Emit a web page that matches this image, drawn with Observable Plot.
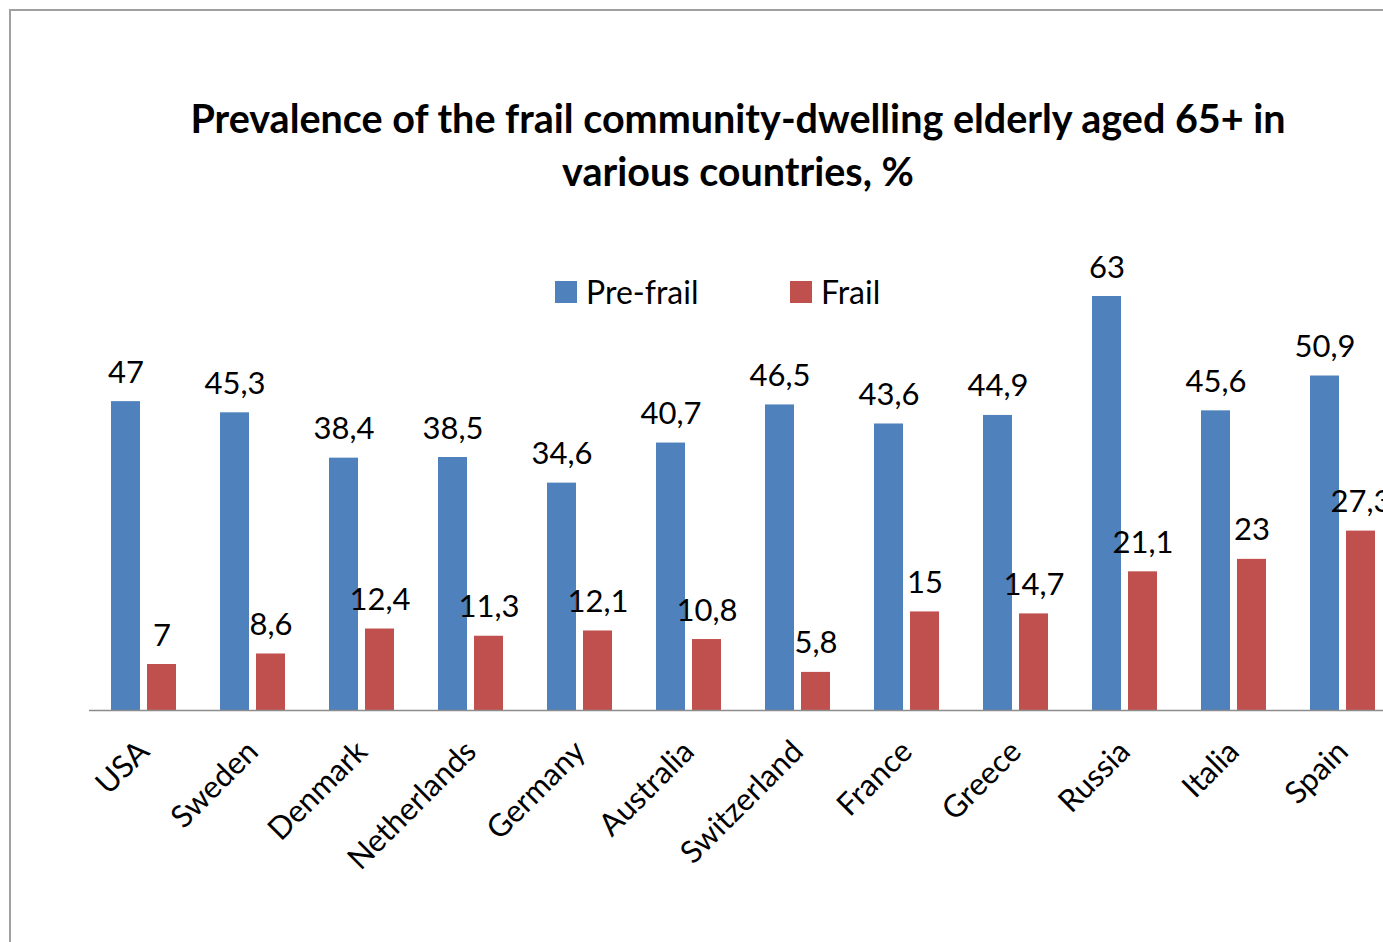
<!DOCTYPE html>
<html><head><meta charset="utf-8">
<script src="https://cdn.jsdelivr.net/npm/d3@7"></script>
<script src="https://cdn.jsdelivr.net/npm/@observablehq/plot@0.6"></script>
<style>
html,body{margin:0;padding:0;background:#fff;overflow:hidden;width:1383px;height:942px;}
#wrap{position:relative;width:1383px;height:942px;overflow:hidden;font-family:Lato,"Open Sans",sans-serif;color:#000;}
#frame{position:absolute;left:9px;top:9px;width:2000px;height:2000px;border-left:2px solid #a0a0a0;border-top:2px solid #a0a0a0;}
#title{position:absolute;left:0;width:1476px;top:91px;text-align:center;font-weight:bold;font-size:39.5px;line-height:53px;}
.leg{position:absolute;top:272px;display:flex;align-items:center;font-size:32px;line-height:40px;}
.sw{width:22px;height:22px;margin-right:9px;}
#chart{position:absolute;left:0;top:200px;width:1420px;}
#chart svg{max-width:none !important;}
</style></head>
<body><div id="wrap">
<div id="frame"></div>
<div id="title">Prevalence of the frail community-dwelling elderly aged 65+ in<br>various countries, %</div>
<div class="leg" style="left:555px"><div class="sw" style="background:#4F81BD"></div><span>Pre-frail</span></div>
<div class="leg" style="left:790px"><div class="sw" style="background:#C0504D"></div><span>Frail</span></div>
<div id="chart"></div>
</div>
<script>
const countries = ["USA","Sweden","Denmark","Netherlands","Germany","Australia","Switzerland","France","Greece","Russia","Italia","Spain"];
const series = ["Pre-frail","Frail"];
const preFrail = [47,45.3,38.4,38.5,34.6,40.7,46.5,43.6,44.9,63,45.6,50.9];
const frail = [7,8.6,12.4,11.3,12.1,10.8,5.8,15,14.7,21.1,23,27.3];
const colors = ["#4F81BD","#C0504D"];

const data = countries.flatMap((c,i)=>[
  {country:c, series:"Pre-frail", value:preFrail[i]},
  {country:c, series:"Frail", value:frail[i]}
]);
const fmt = v => String(v).replace(".", ",");

const chart = Plot.plot({
  width:1420, height:742,
  marginTop:50, marginBottom:232, marginLeft:86, marginRight:20,
  fx:{domain:countries, padding:0, label:null},
  x:{domain:series, paddingInner:0.205, paddingOuter:0.6, axis:null},
  y:{domain:[0,70], axis:null},
  color:{domain:series, range:colors},
  style:{fontFamily:"Lato, 'Open Sans', sans-serif", fontSize:"31px", color:"#000", background:"transparent", overflow:"visible", maxWidth:"none"},
  marks:[
    Plot.barY(data,{fx:"country", x:"series", y:"value", fill:"series"}),
    Plot.ruleY([0],{stroke:"#8c8c8c", strokeWidth:1.5}),
    Plot.text(data,{fx:"country", x:"series", y:"value", text:d=>fmt(d.value), lineAnchor:"bottom", dy:-19, fontSize:31, fill:"#000"}),
    Plot.axisFx({anchor:"bottom", tickRotate:-45, tickSize:0, tickPadding:36, fontSize:31, label:null, fill:"#000"})
  ]
});
document.getElementById("chart").appendChild(chart);
</script>
</body></html>
